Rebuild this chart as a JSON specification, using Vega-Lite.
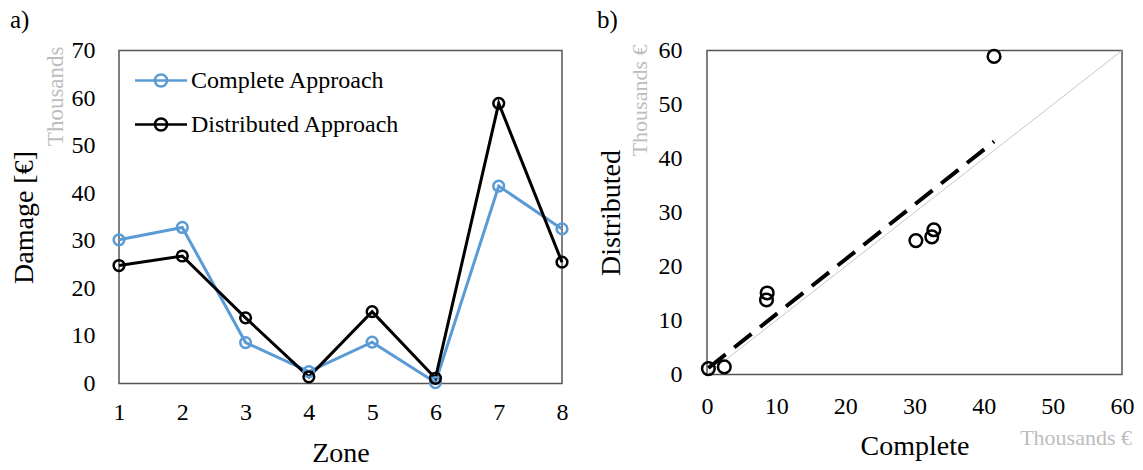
{
  "$schema": "https://vega.github.io/schema/vega-lite/v6.json",
  "padding": {"left": 9, "top": 6.5, "right": 5, "bottom": 5},
  "background": "white",
  "datasets": {
    "damage": [
      {"zone": 1, "Complete Approach": 30.2, "Distributed Approach": 24.8},
      {"zone": 2, "Complete Approach": 32.8, "Distributed Approach": 26.8},
      {"zone": 3, "Complete Approach": 8.6, "Distributed Approach": 13.8},
      {"zone": 4, "Complete Approach": 2.5, "Distributed Approach": 1.4},
      {"zone": 5, "Complete Approach": 8.7, "Distributed Approach": 15.1},
      {"zone": 6, "Complete Approach": 0.2, "Distributed Approach": 1.1},
      {"zone": 7, "Complete Approach": 41.5, "Distributed Approach": 58.9},
      {"zone": 8, "Complete Approach": 32.5, "Distributed Approach": 25.5}
    ]
  },
  "config": {
    "font": "Liberation Serif",
    "view": {"stroke": "#555555", "strokeWidth": 1.5},
    "axis": {
      "domain": false, "ticks": false, "grid": false,
      "labelFont": "Liberation Serif", "labelFontSize": 24, "labelColor": "#000000",
      "labelFlush": false, "labelOverlap": false, "format": "d",
      "titleFont": "Liberation Serif", "titleFontSize": 28, "titleFontWeight": "normal", "titleColor": "#000000"
    },
    "title": {"font": "Liberation Serif", "fontSize": 25, "fontWeight": "normal", "color": "#000000", "anchor": "start", "frame": "bounds"}
  },
  "spacing": 22,
  "hconcat": [
    {
      "width": 443,
      "height": 333,
      "title": {"text": "a)", "offset": 6},
      "layer": [
        {
          "data": {"name": "damage"},
          "transform": [{"fold": ["Complete Approach", "Distributed Approach"], "as": ["series", "value"]}],
          "mark": {"type": "line", "strokeWidth": 3, "point": {"filled": false, "size": 115, "strokeWidth": 2.5, "opacity": 1}},
          "encoding": {
            "x": {"field": "zone", "type": "quantitative", "scale": {"domain": [1, 8], "zero": false, "nice": false},
                  "axis": {"title": "Zone", "values": [1, 2, 3, 4, 5, 6, 7, 8], "format": "d", "labelFont": "Liberation Serif", "labelPadding": 17, "titlePadding": 15}},
            "y": {"field": "value", "type": "quantitative", "scale": {"domain": [0, 70], "nice": false},
                  "axis": {"title": "Damage [€]", "values": [0, 10, 20, 30, 40, 50, 60, 70], "format": "d", "labelFont": "Liberation Serif", "labelPadding": 24, "titlePadding": 33}},
            "color": {"field": "series", "type": "nominal",
                      "scale": {"domain": ["Complete Approach", "Distributed Approach"], "range": ["#5B9BD5", "#000000"]},
                      "legend": {"title": null, "orient": "none", "legendX": 26, "legendY": 14, "padding": 0,
                                 "symbolType": "M-1.8,0H1.8M0.42,0A0.42,0.42,0,1,1,-0.42,0A0.42,0.42,0,1,1,0.42,0",
                                 "symbolSize": 835, "symbolStrokeWidth": 2.5, "symbolFillColor": "transparent", "symbolOpacity": 1,
                                 "labelFont": "Liberation Serif", "labelFontSize": 24, "labelColor": "#000000",
                                 "labelOffset": 14, "rowPadding": 16, "labelLimit": 400}}
          }
        },
        {
          "data": {"values": [{"t": "Thousands"}]},
          "mark": {"type": "text", "angle": 270, "align": "right", "baseline": "middle", "dx": 4, "dy": -63, "fontSize": 23, "color": "#bdbdbd", "font": "Liberation Serif"},
          "encoding": {"x": {"datum": 1}, "y": {"datum": 70}, "text": {"field": "t"}}
        }
      ]
    },
    {
      "width": 415,
      "height": 324,
      "title": {"text": "b)", "offset": 6},
      "layer": [
        {
          "data": {"values": [{"Complete Approach": 0, "Distributed Approach": 0}, {"Complete Approach": 60, "Distributed Approach": 60}]},
          "mark": {"type": "line", "color": "#c8c8c8", "strokeWidth": 1},
          "encoding": {
            "x": {"field": "Complete Approach", "type": "quantitative", "scale": {"domain": [0, 60], "nice": false},
                  "axis": {"title": "Complete", "values": [0, 10, 20, 30, 40, 50, 60], "format": "d", "labelFont": "Liberation Serif", "labelPadding": 20, "titlePadding": 14}},
            "y": {"field": "Distributed Approach", "type": "quantitative", "scale": {"domain": [0, 60], "nice": false},
                  "axis": {"title": "Distributed", "values": [0, 10, 20, 30, 40, 50, 60], "format": "d", "labelFont": "Liberation Serif", "labelPadding": 25, "titlePadding": 33}}
          }
        },
        {
          "data": {"name": "damage"},
          "transform": [{"regression": "Distributed Approach", "on": "Complete Approach"}],
          "mark": {"type": "line", "color": "#000000", "strokeWidth": 4, "strokeDash": [22, 11]},
          "encoding": {
            "x": {"field": "Complete Approach", "type": "quantitative", "title": "Complete"},
            "y": {"field": "Distributed Approach", "type": "quantitative", "title": "Distributed"}
          }
        },
        {
          "data": {"name": "damage"},
          "mark": {"type": "point", "filled": false, "color": "#000000", "size": 160, "strokeWidth": 2.5, "opacity": 1},
          "encoding": {
            "x": {"field": "Complete Approach", "type": "quantitative", "title": "Complete"},
            "y": {"field": "Distributed Approach", "type": "quantitative", "title": "Distributed"}
          }
        },
        {
          "data": {"values": [{"t": "Thousands €"}]},
          "mark": {"type": "text", "angle": 270, "align": "right", "baseline": "middle", "dx": 6, "dy": -67, "fontSize": 22, "color": "#bdbdbd", "font": "Liberation Serif"},
          "encoding": {"x": {"datum": 0}, "y": {"datum": 60}, "text": {"field": "t"}}
        },
        {
          "data": {"values": [{"t": "Thousands €"}]},
          "mark": {"type": "text", "align": "right", "baseline": "middle", "dx": 10, "dy": 63, "fontSize": 22, "color": "#bdbdbd", "font": "Liberation Serif"},
          "encoding": {"x": {"datum": 60}, "y": {"datum": 0}, "text": {"field": "t"}}
        }
      ]
    }
  ]
}
